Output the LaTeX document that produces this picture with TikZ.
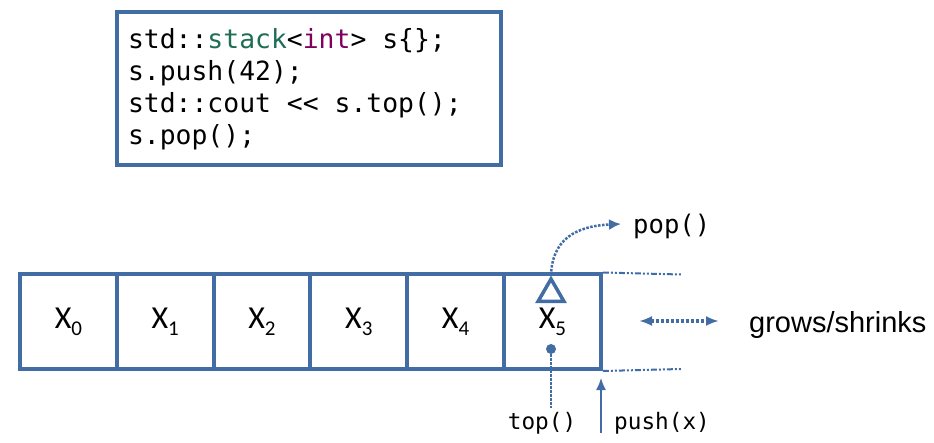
\documentclass[tikz,border=0pt]{standalone}
\usepackage{fontspec}
\setmainfont{Carlito}
\newfontfamily\codefont{DejaVu Sans Mono}
\newfontfamily\arialfont{Liberation Sans}
\usetikzlibrary{arrows.meta,shapes.geometric}
\definecolor{sblue}{RGB}{66,108,164}
\definecolor{kwgreen}{RGB}{30,110,85}
\definecolor{kwpurple}{RGB}{128,0,96}
\tikzset{
  cell/.style={draw=sblue,line width=4pt,minimum width=96.8pt,minimum height=94.5pt,inner sep=0pt,
    font=\fontsize{32}{34}\selectfont},
  extline/.style={draw=sblue,line width=2pt,dash pattern=on 6pt off 2pt on 2pt off 2pt on 2pt off 2pt},
  dotline/.style={draw=sblue,line width=3.2pt,dash pattern=on 3pt off 2pt},
  thindot/.style={draw=sblue,line width=2.5pt,dash pattern=on 2.5pt off 1.5pt},
  tipA/.style={-{Latex[length=16pt,width=14pt,line width=0pt]}},
  monolbl/.style={inner sep=0pt,font=\codefont\fontsize{22.7}{24}\selectfont}
}
\newcommand{\csp}{\hspace*{0.602em}}
\newcommand{\xsub}[1]{X\raisebox{-0.42ex}{\fontsize{21}{22}\selectfont #1}}
\begin{document}
\begin{tikzpicture}[x=1pt,y=-1pt]
\useasboundingbox (0,0) rectangle (934,443);
% code box
\node[draw=sblue,line width=4pt,minimum height=152.5pt,text width=362pt,inner xsep=11pt,inner ysep=0pt,
  align=left,font=\codefont\fontsize{26.4}{32}\selectfont] (code) at (309,88.75)
  {std::\textcolor{kwgreen}{stack}<\textcolor{kwpurple}{int}>\csp s\{\};\\
   s.push(42);\\
   std::cout\csp<<\csp s.top();\\
   s.pop();};
% cells
\node[cell] (c0) at (68.4,321.75) {\xsub{0}};
\node[cell] (c1) at (165.2,321.75) {\xsub{1}};
\node[cell] (c2) at (262,321.75) {\xsub{2}};
\node[cell] (c3) at (358.8,321.75) {\xsub{3}};
\node[cell] (c4) at (455.6,321.75) {\xsub{4}};
\node[cell] (c5) at (552.4,321.75) {\xsub{5}};
% extension lines
\coordinate (e1) at (681,274.5);
\coordinate (e2) at (681,369);
\draw[extline] (c5.north east) -- (e1);
\draw[extline] (c5.south east) -- (e2);
% grows/shrinks
\coordinate (g1) at (639,321);
\coordinate (g2) at (719,321);
\draw[dotline,{Latex[length=13pt,width=10pt,sep=0pt]}-{Latex[length=13pt,width=10pt]}] (g1) -- (g2);
\node[anchor=west,inner sep=0pt,font=\arialfont\fontsize{29}{30}\selectfont] (gs) at (749,325) {grows/shrinks};
% pop
\node[draw=sblue,line width=3.5pt,regular polygon,regular polygon sides=3,minimum size=30pt,inner sep=0pt] (tri) at (551,294) {};
\coordinate (popend) at (621,224);
\draw[thindot,-{Latex[length=12pt,width=11pt]}] (tri.north) .. controls (552,240) and (575,226) .. (popend);
\node[monolbl,anchor=west,font=\codefont\fontsize{25.6}{27}\selectfont] (pop) at (633,226) {pop()};
% top
\node[circle,fill=sblue,minimum size=10pt,inner sep=0pt] (dot) at (551,349) {};
\node[monolbl] (toplbl) at (542,423) {top()};
\coordinate (topend) at (551,408);
\draw[thindot] (dot) -- (topend);
% push
\node[monolbl,anchor=west] (pushlbl) at (614,423) {push(x)};
\coordinate (pushstart) at (601,433);
\coordinate (pushend) at (601,378);
\draw[draw=sblue,line width=1.5pt,-{Latex[length=12pt,width=10pt]}] (pushstart) -- (pushend);
\end{tikzpicture}
\end{document}
